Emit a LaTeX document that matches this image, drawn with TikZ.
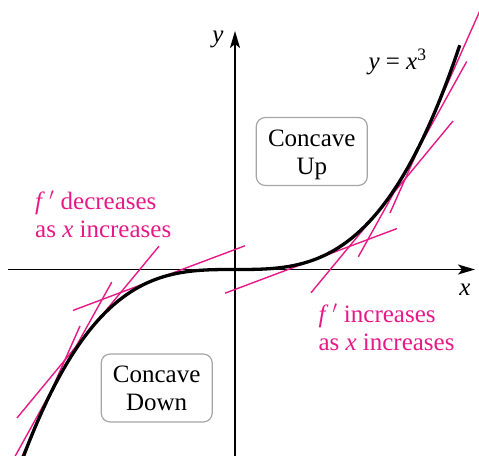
\documentclass[tikz,border=0pt]{standalone}
\usepackage{fontspec}
\setmainfont{Liberation Serif}
\usetikzlibrary{arrows.meta}
\definecolor{pinkline}{RGB}{230,25,135}
\definecolor{boxgray}{RGB}{165,165,165}
% tangent segment of y = 225 t^3 (x = 225 t) at parameter #1, drawn for x in [#2,#3], plus its point-mirror
\newcommand\tanseg[3]{%
  \draw[tanline] ({#2},{225*(#1)^3+3*(#1)^2*((#2)-225*(#1))}) -- ({#3},{225*(#1)^3+3*(#1)^2*((#3)-225*(#1))});
  \draw[tanline] ({-(#2)},{-(225*(#1)^3+3*(#1)^2*((#2)-225*(#1)))}) -- ({-(#3)},{-(225*(#1)^3+3*(#1)^2*((#3)-225*(#1)))});
}
\begin{document}
\begin{tikzpicture}[x=1pt,y=1pt,
  every node/.style={font=\fontsize{25}{28}\selectfont},
  axis/.style={line width=1.8pt,-{Stealth[length=17pt,width=10pt,inset=4pt]}},
  curve/.style={line width=3.3pt},
  tanline/.style={pinkline,line width=1.4pt},
  regionbox/.style={draw=boxgray,line width=1.2pt,rounded corners=9pt,minimum width=111pt,minimum height=68pt,align=center,inner sep=0pt},
  pinklabel/.style={text=pinkline,align=left,inner sep=0pt,anchor=west}]
\useasboundingbox (-235,-185.5) rectangle (244,269.5);
\clip (-235,-185.5) rectangle (244,269.5);
\coordinate (xs) at (-227,0); \coordinate (xe) at (240,0);
\coordinate (ys) at (0,-190); \coordinate (ye) at (0,238.5);
\draw[axis] (xs) -- (xe);
\draw[axis] (ys) -- (ye);
\tanseg{0.354}{-10}{162}
\tanseg{0.635}{76}{218}
\tanseg{0.775}{123.3}{231.7}
\tanseg{0.866}{155}{260}
\draw[curve] plot[domain=-1:1,samples=201] ({225*\x},{225*\x*\x*\x});
\node[anchor=base] (ylab) at (-17,226.5) {\textit{y}};
\node[anchor=base] (xlab) at (230,-25.5) {\textit{x}};
\node[anchor=base west] (eq) at (130,199.5) {\textit{y} = \textit{x}\textsuperscript{3}};
\node[pinklabel] (dec) at (-200,55.6) {\textit{f}\,$'$ decreases\\as \textit{x} increases};
\node[pinklabel] (inc) at (83.3,-57.7) {\textit{f}\,$'$ increases\\as \textit{x} increases};
\node[regionbox] (up) at (76.8,118) {\rule{0pt}{23pt}Concave\\Up};
\node[regionbox] (down) at (-78.3,-118.5) {Concave\\Down};
\end{tikzpicture}
\end{document}
